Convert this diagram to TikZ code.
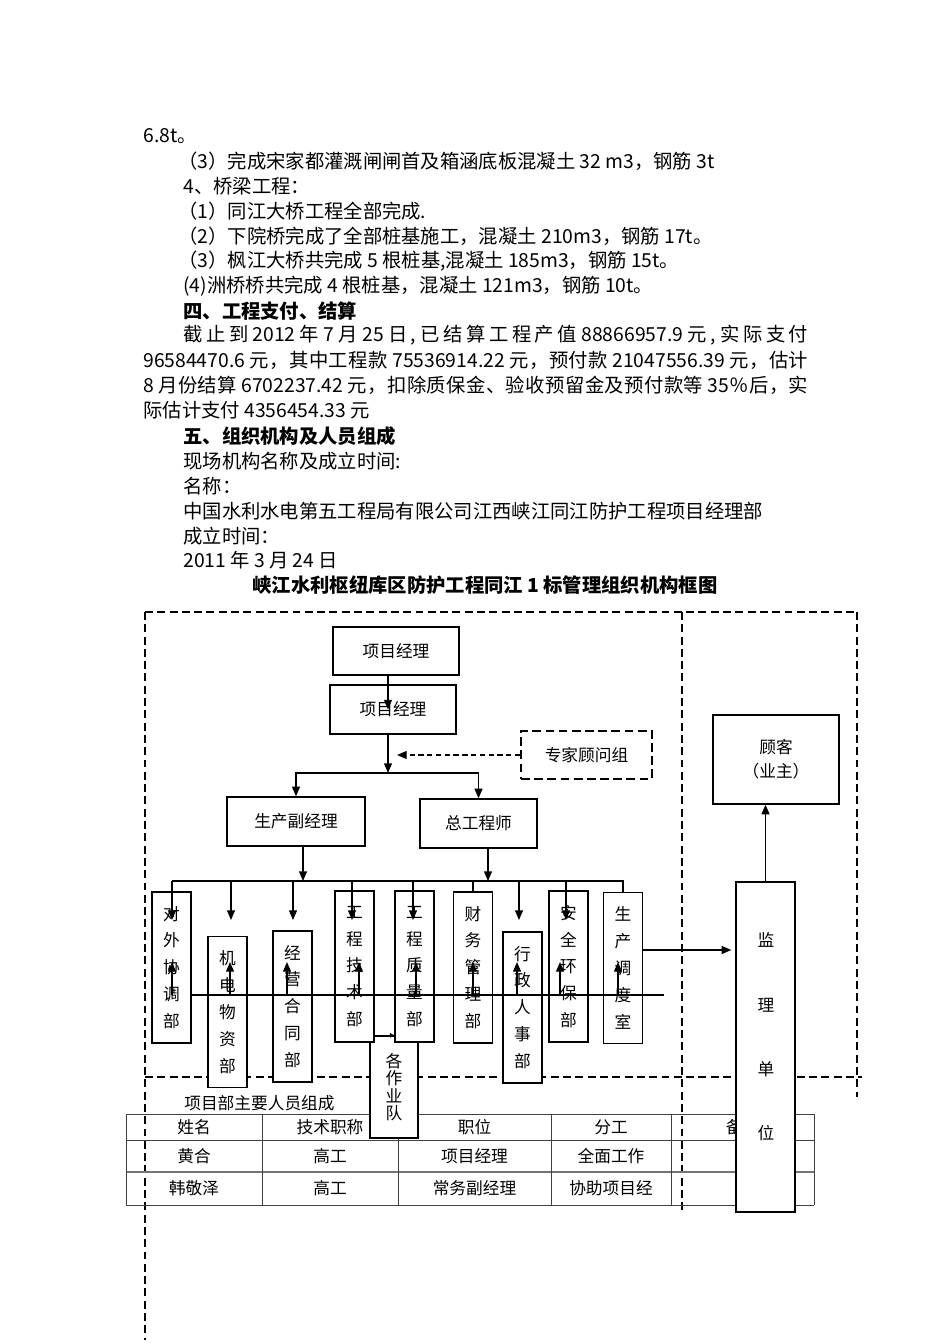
\documentclass[tikz,border=0pt]{standalone}
\usepackage{fontspec}
\setmainfont{Noto Sans CJK SC}
\usetikzlibrary{arrows.meta,calc}
\newlength{\pxu}\setlength{\pxu}{0.02cm}
% stretch between Han characters in the justified lines
\newcount\hanchar
\hanchar="4E00
\loop
  \XeTeXcharclass\hanchar=1
  \advance\hanchar by 1
\ifnum\hanchar<"A000 \repeat
\XeTeXcharclass"FF0C=1 \XeTeXcharclass"3001=1 \XeTeXcharclass"FF05=1
\XeTeXinterchartoks 1 1 = {\hskip 0pt plus 1fil\relax}
\XeTeXinterchartoks 0 1 = {\hskip 0pt plus 1fil\relax}
\XeTeXinterchartoks 1 0 = {\hskip 0pt plus 1fil\relax}
\newcommand{\jline}[2]{\makebox[#1][s]{\XeTeXinterchartokenstate=1 #2}}

\tikzset{
  body/.style={anchor=west, inner sep=0pt, font=\fontsize{11}{13}\selectfont},
  head/.style={body, font=\fontsize{11}{13}\selectfont\bfseries},
  box/.style={draw, line width=0.75pt, fill=white, inner sep=0pt, align=center,
    font=\fontsize{9.5}{12}\selectfont},
  dept/.style={box, minimum width=39\pxu, minimum height=151\pxu,
    font=\fontsize{9.5}{15.3}\selectfont},
  arr/.style={line width=0.75pt, -{Triangle[length=5.5pt,width=4.5pt]}},
  frame/.style={line width=0.6pt, dash pattern=on 4.5pt off 2.5pt},
  cell/.style={inner sep=0pt, font=\fontsize{9.5}{12}\selectfont},
  grid/.style={line width=0.5pt, black!75},
}

\begin{document}
\begin{tikzpicture}[x=0.02cm,y=-0.02cm]
  \useasboundingbox[fill=white] (0,0) rectangle (950,1344);

  % report text
  \node[body] (l1) at (143,136) {6.8t。};
  \node[body] (l2) at (178,161) {（3）完成宋家都灌溉闸闸首及箱涵底板混凝土 32 m3，钢筋 3t};
  \node[body] (l3) at (183,186) {4、桥梁工程：};
  \node[body] (l4) at (178,211) {（1）同江大桥工程全部完成.};
  \node[body] (l5) at (178,236) {（2）下院桥完成了全部桩基施工，混凝土 210m3，钢筋 17t。};
  \node[body] (l6) at (178,261) {（3）枫江大桥共完成 5 根桩基,混凝土 185m3，钢筋 15t。};
  \node[body] (l7) at (183,286) {(4)洲桥桥共完成 4 根桩基，混凝土 121m3，钢筋 10t。};
  \node[head] (l8) at (183,311) {四、工程支付、结算};
  \node[body] (l9) at (183,335) {\jline{12.5cm}{截止到 2012 年 7 月 25 日, 已结算工程产值 88866957.9 元, 实际支付}};
  \node[body] (l10) at (143,360) {\jline{13.3cm}{96584470.6 元，其中工程款 75536914.22 元，预付款 21047556.39 元，估计}};
  \node[body] (l11) at (143,385) {\jline{13.3cm}{8 月份结算 6702237.42 元，扣除质保金、验收预留金及预付款等 35％后，实}};
  \node[body] (l12) at (143,410) {际估计支付 4356454.33 元};
  \node[head] (l13) at (183,436) {五、组织机构及人员组成};
  \node[body] (l14) at (183,461) {现场机构名称及成立时间:};
  \node[body] (l15) at (183,486) {名称：};
  \node[body] (l16) at (183,511) {中国水利水电第五工程局有限公司江西峡江同江防护工程项目经理部};
  \node[body] (l17) at (183,536) {成立时间：};
  \node[body] (l18) at (183,560) {2011 年 3 月 24 日};
  \node[head, anchor=center] (title) at (485,585) {峡江水利枢纽库区防护工程同江 1 标管理组织机构框图};

  % dashed frame
  \draw[frame] (145,612) -- (857,612);
  \draw[frame] (145,612) -- (145,1340);
  \draw[frame] (682,612) -- (682,1213);
  \draw[frame] (857,612) -- (857,1097);
  \draw[frame] (145,1077) -- (862,1077);

  % staff table
  \node[cell, anchor=west] (cap) at (184,1103) {项目部主要人员组成};
  \foreach \y in {1114,1140,1205}
    \draw[grid] (126,\y) -- (814,\y);
  \draw[grid, line width=0.9pt, black!55] (126,1172) -- (814,1172);
  \foreach \x in {126,262,398,551,671,814}
    \draw[grid] (\x,1114) -- (\x,1205);
  \foreach \t/\x [count=\i] in {姓名/194,技术职称/330,职位/474.5,分工/611,备注/742.5}
    \node[cell] (h\i) at (\x,1127) {\t};
  \foreach \t/\x [count=\i] in {黄合/194,高工/330,项目经理/474.5,全面工作/611}
    \node[cell] (r\i) at (\x,1156) {\t};
  \foreach \t/\x [count=\i] in {韩敬泽/194,高工/330,常务副经理/474.5,协助项目经/611}
    \node[cell] (s\i) at (\x,1188.5) {\t};

  % managers
  \node[box, minimum width=126\pxu, minimum height=48\pxu] (pm1) at (396,651) {项目经理};
  \node[box, minimum width=126\pxu, minimum height=49\pxu] (pm2) at (393,709.5) {项目经理};
  \node[box, dash pattern=on 5pt off 2.5pt, line width=0.9pt,
    minimum width=131\pxu, minimum height=48\pxu] (expert) at (586.5,755) {专家顾问组};
  \node[box, minimum width=138\pxu, minimum height=49\pxu] (deputy) at (296,821.5) {生产副经理};
  \node[box, minimum width=117\pxu, minimum height=49\pxu] (chief) at (478.5,823.5) {总工程师};
  \node[box, minimum width=126\pxu, minimum height=89\pxu,
    font=\fontsize{9.5}{13.6}\selectfont] (client) at (776,759.5) {顾客\\（业主）};

  % departments
  \node[box, minimum width=48\pxu, minimum height=102\pxu,
    font=\fontsize{9.5}{9.9}\selectfont] (team) at (394,1087) {各\\作\\业\\队};
  \node[dept] (waixie) at (171.5,967.5) {对\\外\\协\\调\\部};
  \node[dept] (jidian) at (227.5,1012) {机\\电\\物\\资\\部};
  \node[dept] (jingying) at (292.5,1006.5) {经\\营\\合\\同\\部};
  \node[dept] (jishu) at (354.5,966.5) {工\\程\\技\\术\\部};
  \node[dept] (zhiliang) at (414.5,966.5) {工\\程\\质\\量\\部};
  \node[dept] (caiwu) at (473,967.5) {财\\务\\管\\理\\部};
  \node[dept] (xingzheng) at (522.5,1007.5) {行\\政\\人\\事\\部};
  \node[dept] (anquan) at (568.5,966.5) {安\\全\\环\\保\\部};
  \node[dept] (diaodu) at (623,968) {生\\产\\调\\度\\室};

  % supervision
  \node[box, minimum width=59\pxu, minimum height=330\pxu] (sup) at (765.5,1047) {};
  \node[cell, align=center, font=\fontsize{9.5}{36.6}\selectfont] (supt) at (766,1037) {监\\理\\单\\位};

  % connectors
  \coordinate (hub) at (388,773);
  \coordinate (advtip) at (397,755);
  \draw[arr] (pm1.south -| hub) -- (pm2.center -| hub);
  \draw[arr] (pm2.south -| hub) -- (hub);
  \draw[arr, dash pattern=on 3pt off 2pt] (expert.west) -- (advtip);
  \draw[arr] (hub) -| (deputy.north);
  \draw[arr] (hub) -| (chief.north);

  \coordinate (busL) at (171.5,881);
  \coordinate (crossL) at (191,995);
  \coordinate (crossR) at (664,995);
  \draw[line width=0.75pt] (busL) -- (busL -| diaodu.north) -- (diaodu.north);
  \draw[line width=0.75pt] (busL -| caiwu.north) -- (caiwu.north);
  \draw[arr] ($(deputy.south)+(7,0)$) -- ($(deputy.south |- busL)+(7,0)$);
  \draw[arr] ($(chief.south)+(9.5,0)$) -- ($(chief.south |- busL)+(9.5,0)$);
  \foreach \x in {172,231,293,352,413,519,566}
    \draw[arr] (\x,881) -- (\x,920);
  \draw[line width=0.75pt] (crossL) -- (crossR);
  \foreach \x in {172,230,287,359,416,473,517,560,618}
    \draw[arr] (\x,995) -- (\x,962);
  \draw[line width=0.6pt, -{Triangle[length=2.5pt,width=2.5pt]}] (jishu.east |- team.north) -- (zhiliang.west |- team.north);
  \draw[arr] ($(diaodu.east)+(0,-18)$) -- ($(sup.west |- diaodu.east)+(-4,-18)$);
  \draw[arr] (sup.north) -- (sup.north |- client.south);
\end{tikzpicture}
\end{document}
